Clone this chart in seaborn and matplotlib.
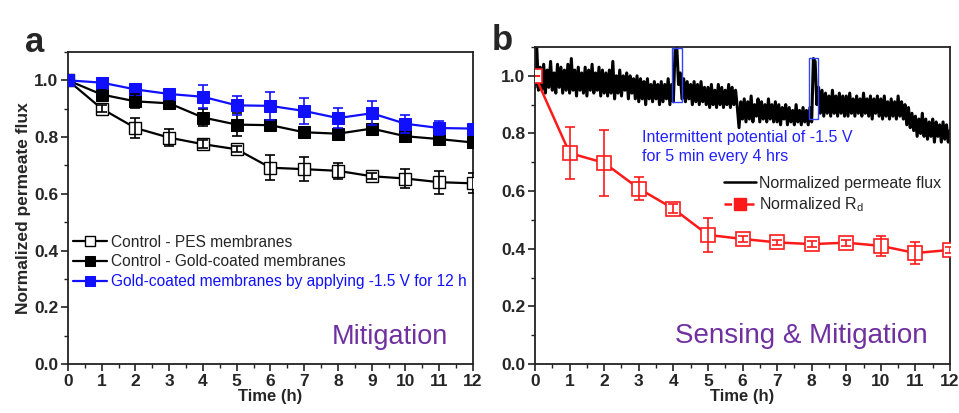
import numpy as np
import pandas as pd
import matplotlib
matplotlib.use("Agg")
import matplotlib.pyplot as plt
import seaborn as sns
from matplotlib.ticker import MultipleLocator, AutoMinorLocator
from matplotlib.patches import Rectangle
from matplotlib.lines import Line2D

# ---------------- data ----------------
time_h = [0, 1, 2, 3, 4, 5, 6, 7, 8, 9, 10, 11, 12]

pes_flux = [1.0, 0.900, 0.832, 0.798, 0.775, 0.757, 0.692, 0.687, 0.681, 0.662, 0.654, 0.641, 0.637]
pes_err = [0.0, 0.012, 0.035, 0.030, 0.015, 0.010, 0.045, 0.042, 0.027, 0.010, 0.032, 0.040, 0.035]

gold_flux = [1.0, 0.950, 0.926, 0.919, 0.869, 0.844, 0.842, 0.817, 0.812, 0.830, 0.803, 0.793, 0.781]
gold_err = [0.0, 0.015, 0.025, 0.010, 0.030, 0.040, 0.015, 0.010, 0.010, 0.010, 0.010, 0.010, 0.010]

volt_flux = [1.0, 0.992, 0.968, 0.952, 0.942, 0.912, 0.910, 0.892, 0.867, 0.884, 0.847, 0.832, 0.830]
volt_err = [0.0, 0.010, 0.010, 0.015, 0.040, 0.033, 0.050, 0.045, 0.034, 0.043, 0.032, 0.025, 0.015]

rd_norm = [1.0, 0.732, 0.698, 0.609, 0.539, 0.448, 0.434, 0.422, 0.416, 0.421, 0.410, 0.385, 0.396]
rd_err = [0.0, 0.090, 0.115, 0.040, 0.015, 0.058, 0.010, 0.010, 0.010, 0.010, 0.035, 0.037, 0.010]

legend_a = ["Control - PES membranes",
            "Control - Gold-coated membranes",
            "Gold-coated membranes by applying -1.5 V for 12 h"]
legend_b = ["Normalized permeate flux", "Normalized R$_\\mathregular{d}$"]

flux_time = [i * 0.05 for i in range(241)]
flux_trace = [
    0.96, 1.10, 0.95, 1.03, 0.95, 1.04, 0.94, 1.02, 0.96, 1.05, 0.95, 1.01, 0.94, 1.04, 0.96, 1.03, 0.94, 1.02, 0.95, 1.04,
    0.94, 1.06, 0.95, 1.02, 0.93, 1.03, 0.95, 1.01, 0.94, 1.03, 0.93, 1.02, 0.95, 1.04, 0.94, 1.01, 0.95, 1.03, 0.93, 1.02,
    0.94, 1.01, 0.93, 1.02, 0.94, 1.05, 0.92, 1.00, 0.94, 1.02, 0.93, 1.00, 0.95, 1.01, 0.92, 1.00, 0.94, 0.99, 0.92, 1.00,
    0.91, 0.99, 0.92, 0.98, 0.90, 0.99, 0.92, 0.97, 0.91, 0.98, 0.92, 0.97, 0.90, 0.98, 0.91, 0.97, 0.92, 0.99, 0.90, 0.97,
    0.91, 1.09, 1.10, 0.97, 1.01, 0.92, 0.99, 0.91, 0.98, 0.92, 0.97, 0.90, 0.98, 0.91, 0.97, 0.90, 0.98, 0.91, 0.96, 0.90,
    0.96, 0.89, 0.97, 0.90, 0.95, 0.89, 0.97, 0.90, 0.96, 0.89, 0.95, 0.90, 0.97, 0.89, 0.96, 0.90, 0.95, 0.89, 0.82, 0.91,
    0.85, 0.92, 0.84, 0.91, 0.85, 0.93, 0.84, 0.90, 0.86, 0.92, 0.84, 0.91, 0.85, 0.90, 0.84, 0.92, 0.85, 0.90, 0.84, 0.91,
    0.84, 0.90, 0.83, 0.89, 0.85, 0.90, 0.83, 0.89, 0.84, 0.88, 0.83, 0.90, 0.84, 0.88, 0.83, 0.89, 0.84, 0.88, 0.83, 0.89,
    0.84, 1.06, 1.05, 0.90, 0.96, 0.87, 0.95, 0.86, 0.94, 0.87, 0.93, 0.86, 0.95, 0.87, 0.93, 0.86, 0.94, 0.87, 0.93, 0.86,
    0.93, 0.86, 0.94, 0.87, 0.92, 0.86, 0.93, 0.87, 0.92, 0.86, 0.94, 0.87, 0.92, 0.86, 0.93, 0.85, 0.92, 0.87, 0.93, 0.86,
    0.92, 0.85, 0.93, 0.86, 0.91, 0.85, 0.92, 0.86, 0.91, 0.85, 0.93, 0.86, 0.91, 0.85, 0.90, 0.83, 0.89, 0.82, 0.87, 0.81,
    0.86, 0.79, 0.85, 0.80, 0.87, 0.79, 0.85, 0.78, 0.84, 0.79, 0.85, 0.77, 0.84, 0.79, 0.83, 0.77, 0.84, 0.78, 0.83, 0.77,
    0.81,
]

# windows where the potential was applied: (t_start, t_end, y_low, y_high)
pulse_boxes = [(3.95, 4.24, 0.908, 1.098), (7.93, 8.19, 0.85, 1.063)]

# ---------------- style ----------------
sns.set_theme(style="ticks")
plt.rcParams["font.family"] = ["Liberation Sans", "DejaVu Sans"]
plt.rcParams["axes.edgecolor"] = "#222222"
plt.rcParams["axes.linewidth"] = 1.3

BLUE = "#1010ff"
RED = "#ff1a1a"
PURPLE = "#7030a0"

fig = plt.figure(figsize=(9.59, 4.13), dpi=100)
fig.patch.set_facecolor("white")
ax_a = fig.add_axes([0.0709, 0.1186, 0.4223, 0.7555])
ax_b = fig.add_axes([0.5579, 0.1186, 0.4327, 0.7676])


def style_axis(ax):
    ax.set_xlim(0, 12)
    ax.set_ylim(0, 1.1)
    ax.xaxis.set_major_locator(MultipleLocator(1))
    ax.xaxis.set_minor_locator(AutoMinorLocator(2))
    ax.yaxis.set_major_locator(MultipleLocator(0.2))
    ax.yaxis.set_minor_locator(AutoMinorLocator(2))
    ax.tick_params(which="both", direction="out", top=False, right=False, color="#222222")
    ax.tick_params(which="major", length=5, width=1.2, labelsize=12.5, pad=2)
    ax.tick_params(which="minor", length=3, width=1.0)
    ax.set_yticks([0.0, 0.2, 0.4, 0.6, 0.8, 1.0])
    ax.set_yticklabels(["0.0", "0.2", "0.4", "0.6", "0.8", "1.0"])
    for lab in ax.get_xticklabels() + ax.get_yticklabels():
        lab.set_fontweight("bold")
    ax.set_xlabel("Time (h)", fontsize=12, fontweight="bold", labelpad=0)
    for s in ax.spines.values():
        s.set_visible(True)


# ---------------- panel a ----------------
df_a = pd.DataFrame({"time": time_h, "pes": pes_flux, "gold": gold_flux, "volt": volt_flux})

sns.lineplot(data=df_a, x="time", y="pes", ax=ax_a, color="black", linewidth=1.6,
             marker="s", markersize=9, markerfacecolor="white", markeredgecolor="black",
             markeredgewidth=1.0, label=legend_a[0], zorder=3)
sns.lineplot(data=df_a, x="time", y="gold", ax=ax_a, color="black", linewidth=1.6,
             marker="s", markersize=9, markerfacecolor="black", markeredgecolor="black",
             label=legend_a[1], zorder=3)
sns.lineplot(data=df_a, x="time", y="volt", ax=ax_a, color=BLUE, linewidth=1.6,
             marker="s", markersize=9, markerfacecolor=BLUE, markeredgecolor=BLUE,
             label=legend_a[2], zorder=3)

for y, e, c in [(pes_flux, pes_err, "black"), (gold_flux, gold_err, "black"), (volt_flux, volt_err, BLUE)]:
    ax_a.errorbar(time_h, y, yerr=e, fmt="none", ecolor=c, elinewidth=1.2,
                  capsize=3.5, capthick=1.2, zorder=4)

style_axis(ax_a)
ax_a.set_ylabel("Normalized permeate flux", fontsize=12.5, fontweight="bold", labelpad=2)

leg_a = ax_a.legend(loc="center left", bbox_to_anchor=(0.012, 0.327), frameon=False,
                    fontsize=11.2, handlelength=2.2, handletextpad=0.25,
                    labelspacing=0.3, borderpad=0, borderaxespad=0, markerscale=0.85)
leg_a.get_texts()[2].set_color(BLUE)

ax_a.text(7.82, 0.094, "Mitigation", color=PURPLE, fontsize=19.5, va="center", ha="left")

# ---------------- panel b ----------------
df_b_flux = pd.DataFrame({"time": flux_time, "flux": flux_trace})
df_b_rd = pd.DataFrame({"time": time_h, "rd": rd_norm})

sns.lineplot(data=df_b_flux, x="time", y="flux", ax=ax_b, color="black", linewidth=2.2,
             label=legend_b[0], zorder=2)
sns.lineplot(data=df_b_rd, x="time", y="rd", ax=ax_b, color=RED, linewidth=1.8,
             marker="s", markersize=10, markerfacecolor="white", markeredgecolor=RED,
             markeredgewidth=1.2, label=legend_b[1], zorder=3)
ax_b.errorbar(time_h, rd_norm, yerr=rd_err, fmt="none", ecolor=RED, elinewidth=1.2,
              capsize=3.5, capthick=1.2, zorder=4)

for t0, t1, y0, y1 in pulse_boxes:
    ax_b.add_patch(Rectangle((t0, y0), t1 - t0, y1 - y0, fill=False,
                             edgecolor="#3344ff", linewidth=1.0, zorder=5))

style_axis(ax_b)
ax_b.set_ylabel("")

handles_b = [Line2D([], [], color="black", linewidth=1.8),
             Line2D([], [], color=RED, linewidth=1.8, linestyle=(0, (3, 1.5)), marker="s",
                    markersize=8, markerfacecolor=RED, markeredgecolor=RED)]
ax_b.legend(handles_b, legend_b, loc="center left", bbox_to_anchor=(0.455, 0.533),
            frameon=False, fontsize=11.5, handlelength=2.0, handletextpad=0.2,
            labelspacing=0.3, borderpad=0, borderaxespad=0)

ax_b.text(3.1, 0.752, "Intermittent potential of -1.5 V\nfor 5 min every 4 hrs",
          color="#2222ff", fontsize=11.5, va="center", ha="left", linespacing=1.3)
ax_b.text(4.05, 0.097, "Sensing & Mitigation", color=PURPLE, fontsize=20, va="center", ha="left")

# ---------------- panel letters ----------------
fig.text(0.026, 0.874, "a", fontsize=25, fontweight="bold", va="baseline", ha="left")
fig.text(0.513, 0.879, "b", fontsize=25, fontweight="bold", va="baseline", ha="left")

fig.savefig("out.png", dpi=100, facecolor="white")
